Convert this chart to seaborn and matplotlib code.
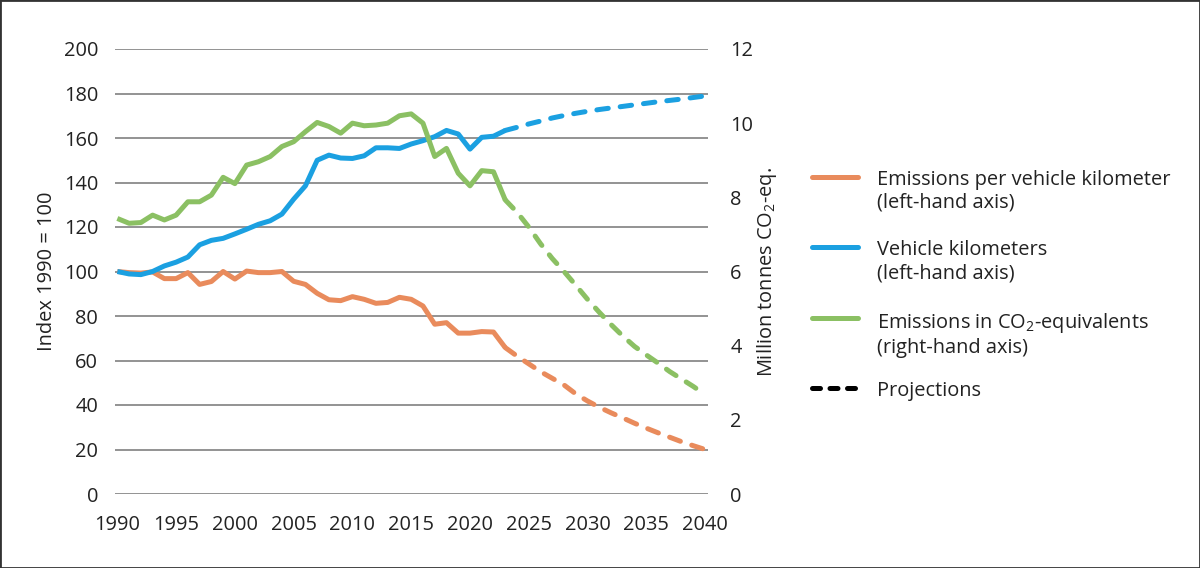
import numpy as np
import pandas as pd
import matplotlib
matplotlib.use("Agg")
import matplotlib.pyplot as plt
from matplotlib.lines import Line2D
from matplotlib.patches import Rectangle
import seaborn as sns

# ─── Data ────────────────────────────────────────────────────────────────────
years_hist = list(range(1990, 2024))
years_proj = list(range(2023, 2041))

per_vkm_hist = [100, 99.5, 99.3, 99.8, 96.8, 96.8, 99.5, 94.2, 95.5, 100,
                96.6, 100.2, 99.5, 99.5, 100, 95.6, 94.2, 90.2, 87.3, 86.9,
                88.7, 87.5, 85.7, 86.1, 88.4, 87.5, 84.5, 76.3, 77.0, 72.3,
                72.3, 73.0, 72.8, 65.8]
per_vkm_proj = [65.8, 62, 58.5, 55, 52, 49, 45, 41.8, 39, 36.5,
                34.2, 31.8, 29.6, 27.5, 25.5, 23.5, 21.7, 20]

vkm_hist = [100, 98.9, 98.6, 100, 102.5, 104.2, 106.5, 112, 114, 114.9,
            116.9, 119, 121.2, 122.8, 125.8, 132.5, 138.5, 150, 152.3, 151,
            150.8, 152, 155.6, 155.6, 155.3, 157.3, 158.8, 160.6, 163.4, 161.8,
            155, 160.3, 160.8, 163.4]
vkm_proj = [163.4, 164.8, 166.3, 167.6, 169, 170.1, 171.1, 172, 172.8, 173.5,
            174.2, 174.9, 175.6, 176.3, 176.9, 177.5, 178.2, 178.9]

co2_hist = [7.43, 7.30, 7.32, 7.52, 7.39, 7.52, 7.88, 7.88, 8.06, 8.54,
            8.37, 8.87, 8.96, 9.10, 9.37, 9.50, 9.77, 10.02, 9.91, 9.73,
            10.0, 9.93, 9.95, 10.0, 10.2, 10.25, 10.0, 9.10, 9.32, 8.65,
            8.31, 8.72, 8.69, 7.93]
co2_proj = [7.93, 7.6, 7.2, 6.75, 6.35, 6.0, 5.63, 5.25, 4.9, 4.57,
            4.26, 3.98, 3.75, 3.53, 3.3, 3.1, 2.9, 2.68]

left_ticks = list(range(0, 201, 20))
right_ticks = list(range(0, 13, 2))
x_ticks = list(range(1990, 2041, 5))

legend_labels = ["Emissions per vehicle kilometer\n(left-hand axis)",
                 "Vehicle kilometers\n(left-hand axis)",
                 "Emissions in CO$_\\mathrm{2}$-equivalents\n(right-hand axis)",
                 "Projections"]

ORANGE = '#E98B5C'
BLUE = '#1BA0E1'
GREEN = '#8BC063'
TEXT = '#222222'
GRID = '#808080'

# ─── Style ───────────────────────────────────────────────────────────────────
sns.set_theme(style='white')
plt.rcParams['font.family'] = ['Open Sans', 'DejaVu Sans']
plt.rcParams['mathtext.fontset'] = 'custom'
plt.rcParams['mathtext.rm'] = 'Open Sans'
plt.rcParams['mathtext.it'] = 'Open Sans'
plt.rcParams['text.color'] = TEXT
FS = 14.4

fig = plt.figure(figsize=(12, 5.68), dpi=100)
ax = fig.add_axes([115 / 1200, 1 - 494 / 568, 593 / 1200, 445 / 568])
ax2 = ax.twinx()

LW = 3.6
DASH = (0, (2.3, 2.4))

sns.lineplot(x=years_hist, y=per_vkm_hist, ax=ax, color=ORANGE, linewidth=LW,
             solid_capstyle='butt')
sns.lineplot(x=years_proj, y=per_vkm_proj, ax=ax, color=ORANGE, linewidth=LW,
             linestyle=DASH, dash_capstyle='round')
sns.lineplot(x=years_hist, y=vkm_hist, ax=ax, color=BLUE, linewidth=LW,
             solid_capstyle='butt')
sns.lineplot(x=years_proj, y=vkm_proj, ax=ax, color=BLUE, linewidth=LW,
             linestyle=DASH, dash_capstyle='round')
sns.lineplot(x=years_hist, y=co2_hist, ax=ax2, color=GREEN, linewidth=LW,
             solid_capstyle='butt')
sns.lineplot(x=years_proj, y=co2_proj, ax=ax2, color=GREEN, linewidth=LW,
             linestyle=DASH, dash_capstyle='round')

ax.set_xlim(1989.8, 2040.25)
ax.set_ylim(0, 200)
ax2.set_ylim(0, 12)
ax.set_xticks(x_ticks)
ax.set_yticks(left_ticks)
ax2.set_yticks(right_ticks)

ax.grid(axis='y', color=GRID, lw=1.2)
ax.grid(axis='x', visible=False)
ax2.grid(False)
for a in (ax, ax2):
    for s in a.spines.values():
        s.set_visible(False)

ax.tick_params(axis='y', length=0, pad=12, labelsize=FS, labelcolor=TEXT)
ax.tick_params(axis='x', length=0, pad=15, labelsize=FS, labelcolor=TEXT)
ax2.tick_params(axis='y', length=0, pad=16, labelsize=FS, labelcolor=TEXT)

ax.set_xlabel('')
ax.set_ylabel('Index 1990 = 100', fontsize=FS, color=TEXT, labelpad=5)
ax2.set_ylabel('Million tonnes CO$_\\mathrm{2}$-eq.', fontsize=FS, color=TEXT,
               labelpad=1)

# ─── Legend (handle sits on the first text line, as in the reference) ────────
leg_colors = [ORANGE, BLUE, GREEN, 'black']
leg_y = [177, 247, 318, 388]
for col, lab, yp in zip(leg_colors, legend_labels, leg_y):
    yf = 1 - yp / 568
    ls = (0, (1.6, 1.9)) if col == 'black' else '-'
    fig.add_artist(Line2D([812 / 1200, 858 / 1200], [yf, yf], color=col,
                          lw=LW, linestyle=ls, solid_capstyle='round',
                          dash_capstyle='round'))
    fig.text(877 / 1200, yf + 7 / 568, lab, fontsize=FS, color=TEXT,
             va='top', ha='left', linespacing=1.2)

# frame around the whole picture
fig.add_artist(Rectangle((0, 0), 1, 1, transform=fig.transFigure, fill=False,
                         edgecolor='#333333', lw=2))

fig.savefig('out.png', dpi=100, facecolor='white')
